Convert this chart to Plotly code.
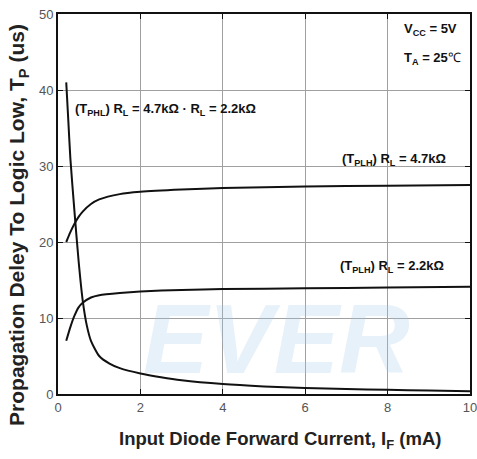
import plotly.graph_objects as go

# TPHL (RL = 4.7k / 2.2k)
phl_x = [0.2, 0.25, 0.3, 0.4, 0.5, 0.6, 0.7, 0.8, 1.0, 1.25, 1.5, 2.0, 2.5, 3.0, 4.0, 5.0, 6.0, 7.0, 8.0, 9.0, 10.0]
phl_y = [41.0, 36.0, 31.0, 24.0, 17.5, 12.3, 9.0, 7.0, 5.0, 4.0, 3.4, 2.7, 2.2, 1.8, 1.3, 1.0, 0.8, 0.65, 0.55, 0.45, 0.35]
# TPLH RL = 4.7k
plh47_x = [0.2, 0.3, 0.4, 0.5, 0.6, 0.8, 1.0, 1.5, 2.0, 3.0, 4.0, 6.0, 8.0, 10.0]
plh47_y = [20.0, 21.3, 22.4, 23.3, 24.0, 25.0, 25.6, 26.3, 26.6, 26.9, 27.1, 27.3, 27.4, 27.5]
# TPLH RL = 2.2k
plh22_x = [0.2, 0.3, 0.4, 0.5, 0.6, 0.8, 1.0, 1.5, 2.0, 3.0, 4.0, 6.0, 8.0, 10.0]
plh22_y = [7.0, 8.8, 10.3, 11.4, 12.0, 12.7, 13.0, 13.3, 13.5, 13.7, 13.8, 13.9, 14.0, 14.1]

x_ticks = [0, 2, 4, 6, 8, 10]
y_ticks = [0, 10, 20, 30, 40, 50]

FONT = "Liberation Sans Narrow, Arial Narrow, Liberation Sans, Arial"

fig = go.Figure()
for xs, ys in [(phl_x, phl_y), (plh47_x, plh47_y), (plh22_x, plh22_y)]:
    fig.add_trace(go.Scatter(x=xs, y=ys, mode="lines", line=dict(color="#111111", width=2, shape="spline", smoothing=0.6),
                             showlegend=False, hoverinfo="skip"))

# faint watermark
fig.add_annotation(x=5.3, y=7.2, xref="x", yref="y", text="<b><i>EVER</i></b>", showarrow=False,
                   font=dict(family="Liberation Sans, Arial", size=98, color="rgba(160,200,230,0.25)"))

ann_font = dict(family=FONT, size=13, color="#111111")
fig.add_annotation(x=0.37, y=37.5, xref="x", yref="y", xanchor="left", showarrow=False,
                   text="<b>(T<sub>PHL</sub>) R<sub>L</sub> = 4.7kΩ · R<sub>L</sub> = 2.2kΩ</b>", font=ann_font)
fig.add_annotation(x=6.85, y=30.8, xref="x", yref="y", xanchor="left", showarrow=False,
                   text="<b>(T<sub>PLH</sub>) R<sub>L</sub> = 4.7kΩ</b>", font=ann_font)
fig.add_annotation(x=6.8, y=16.8, xref="x", yref="y", xanchor="left", showarrow=False,
                   text="<b>(T<sub>PLH</sub>) R<sub>L</sub> = 2.2kΩ</b>", font=ann_font)
fig.add_annotation(x=8.35, y=47.9, xref="x", yref="y", xanchor="left", showarrow=False,
                   text="<b>V<sub>CC</sub> = 5V</b>", font=ann_font)
fig.add_annotation(x=8.35, y=44.2, xref="x", yref="y", xanchor="left", showarrow=False,
                   text="<b>T<sub>A</sub> = 25</b>℃", font=ann_font)

# axis titles
fig.add_annotation(x=0.539, y=-0.121, xref="paper", yref="paper", xanchor="center", yanchor="middle",
                   showarrow=False, text="<b>Input Diode Forward Current, I<sub>F</sub> (mA)</b>",
                   font=dict(family=FONT, size=18.5, color="#222222"))
fig.add_annotation(x=-0.097, y=0.445, xref="paper", yref="paper", xanchor="center", yanchor="middle",
                   showarrow=False, textangle=-90,
                   text="<b>Propagation Deley To Logic Low, T<sub>P</sub> (us)</b>",
                   font=dict(family="Liberation Sans, Arial", size=21, color="#222222"))

axis_common = dict(showgrid=True, gridcolor="#a0a0a0", gridwidth=1, showline=True, linecolor="#111111",
                   linewidth=2, mirror="ticks", ticks="inside", ticklen=5, tickcolor="#111111", zeroline=False,
                   automargin=False, ticklabeloverflow="allow",
                   tickfont=dict(family="Liberation Sans, Arial", size=13, color="#555555"))

fig.update_layout(
    width=477, height=459,
    margin=dict(l=58, r=7, t=14, b=65),
    paper_bgcolor="white", plot_bgcolor="white",
    xaxis=dict(range=[0, 10], tickvals=x_ticks, **axis_common),
    yaxis=dict(range=[0, 50], tickvals=y_ticks, **axis_common),
)

fig.write_html("out.html")
